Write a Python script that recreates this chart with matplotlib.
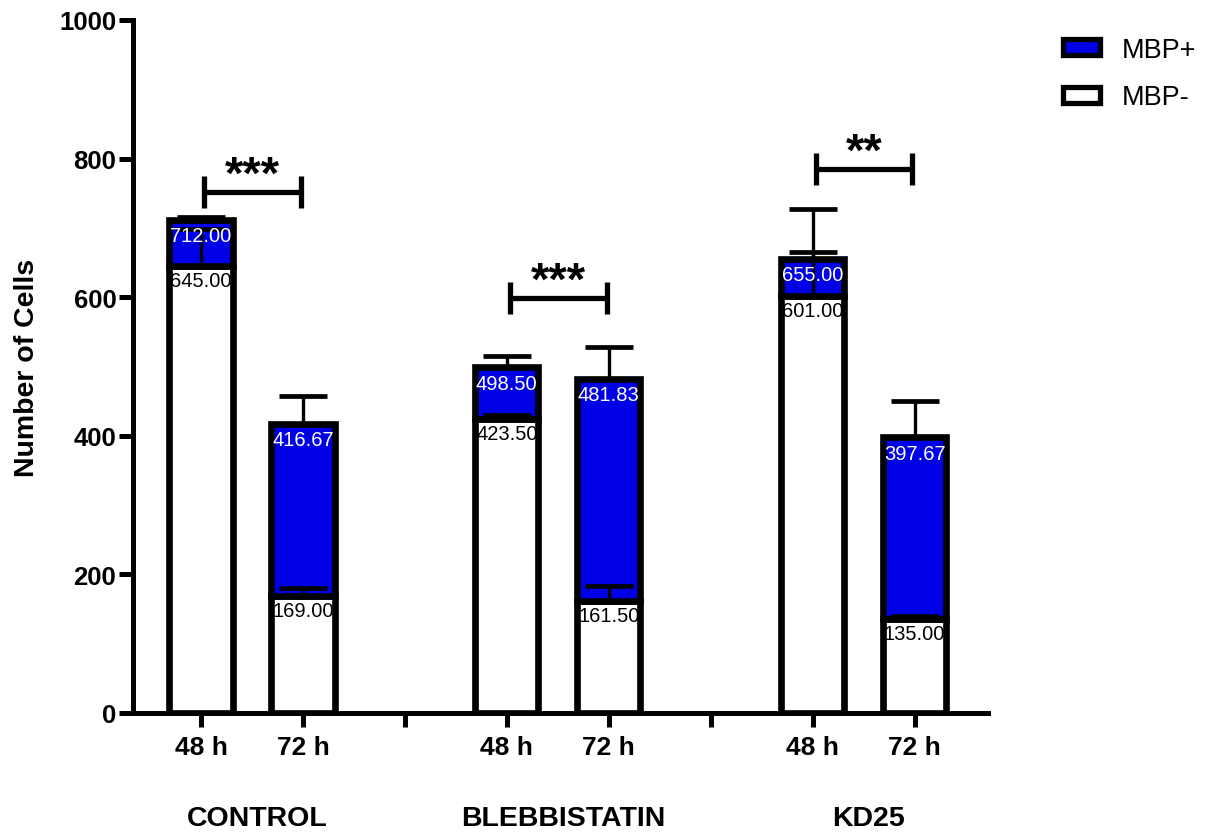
#!/usr/bin/env python3
import matplotlib
matplotlib.use('Agg')
import matplotlib.pyplot as plt
from matplotlib.patches import Patch

plt.rcParams['font.family'] = ['Liberation Sans', 'DejaVu Sans']

groups = ['CONTROL', 'BLEBBISTATIN', 'KD25']
times = ['48 h', '72 h']
# cumulative values: MBP- at the bottom, total (MBP- + MBP+) at the top
mbp_neg = [645.00, 169.00, 423.50, 161.50, 601.00, 135.00]
totals = [712.00, 416.67, 498.50, 481.83, 655.00, 397.67]
err_total = [4, 41, 16, 46, 72, 52]
err_neg = [53, 11, 7, 22, 64, 5]
sig_stars = ['***', '***', '**']
sig_y = [752, 599, 785]

BLUE = '#0000E6'


def main():
    fig = plt.figure(figsize=(12.11, 8.37), dpi=100)
    ax = fig.add_axes([0.1098, 0.147, 0.706, 0.828])

    xs = []
    for g in range(len(groups)):
        for t in range(len(times)):
            xs.append(g * 3 + t)
    width = 0.62

    mbp_pos = [tot - neg for tot, neg in zip(totals, mbp_neg)]
    ax.bar(xs, mbp_neg, width=width, color='white', edgecolor='black',
           linewidth=4.8, zorder=2)
    ax.bar(xs, mbp_pos, bottom=mbp_neg, width=width, color=BLUE,
           edgecolor='black', linewidth=4.8, zorder=2)

    # upper-only error bars
    ax.errorbar(xs, totals, yerr=[[0] * len(xs), err_total], fmt='none',
                ecolor='black', elinewidth=2.4, capsize=17, capthick=3.4, zorder=3)
    ax.errorbar(xs, mbp_neg, yerr=[[0] * len(xs), err_neg], fmt='none',
                ecolor='black', elinewidth=2.4, capsize=17, capthick=3.4, zorder=3)

    for x, tot, neg in zip(xs, totals, mbp_neg):
        ax.text(x, tot - 9, f'{tot:.2f}', ha='center', va='top',
                color='white', fontsize=14.5, zorder=4)
        ax.text(x, neg - 7, f'{neg:.2f}', ha='center', va='top',
                color='black', fontsize=14.5, zorder=4)

    # significance brackets
    for g, (stars, y) in enumerate(zip(sig_stars, sig_y)):
        x0, x1 = g * 3 + 0.03, g * 3 + 0.98
        ax.plot([x0, x1], [y, y], color='black', lw=3.8, zorder=3,
                solid_capstyle='butt')
        for xe in (x0, x1):
            ax.plot([xe, xe], [y - 23, y + 23], color='black', lw=3.8,
                    zorder=3, solid_capstyle='butt')
        ax.text((x0 + x1) / 2, y - 8, stars, ha='center', va='bottom',
                fontsize=34, fontweight='bold')

    ax.set_xlim(-0.667, 7.72)
    ax.set_ylim(0, 1000)
    for s in ('top', 'right'):
        ax.spines[s].set_visible(False)
    for s in ('left', 'bottom'):
        ax.spines[s].set_linewidth(3.6)

    ax.set_yticks([0, 200, 400, 600, 800, 1000])
    ax.tick_params(axis='y', length=10, width=3.6, labelsize=18.5, pad=2)
    for lab in ax.get_yticklabels():
        lab.set_fontweight('bold')

    ax.set_xticks(xs + [2, 5])
    ax.set_xticklabels(times * len(groups) + ['', ''])
    ax.tick_params(axis='x', length=10, width=3.6, labelsize=19, pad=6)
    for lab in ax.get_xticklabels():
        lab.set_fontweight('bold')

    for g, name in enumerate(groups):
        ax.text(g * 3 + 0.55, -152, name, ha='center', va='center',
                fontsize=20.5, fontweight='bold', clip_on=False)

    ax.set_ylabel('Number of Cells', fontsize=20.5, fontweight='bold', labelpad=14)

    handles = [Patch(facecolor=BLUE, edgecolor='black', linewidth=3.8, label='MBP+'),
               Patch(facecolor='white', edgecolor='black', linewidth=3.8, label='MBP-')]
    fig.legend(handles=handles, loc='upper left', bbox_to_anchor=(0.858, 0.984),
               frameon=False, fontsize=19.5, handlelength=1.35, handleheight=0.5,
               labelspacing=0.8, handletextpad=0.8)

    fig.savefig('out.png', dpi=100)
    plt.close(fig)


if __name__ == '__main__':
    main()
